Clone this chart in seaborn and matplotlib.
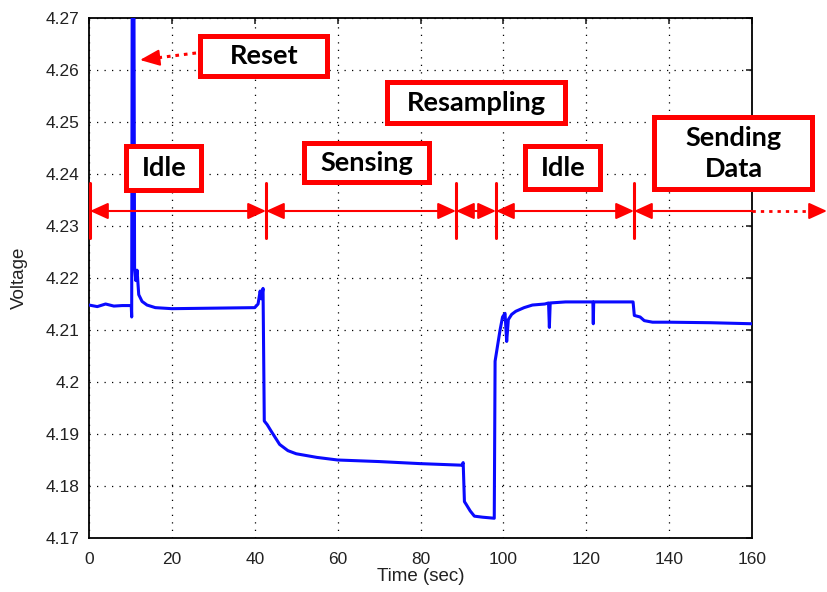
import matplotlib
matplotlib.use("Agg")
import matplotlib.pyplot as plt
import matplotlib.transforms as mtransforms
from matplotlib.patches import Rectangle, FancyArrowPatch
from matplotlib.lines import Line2D
import numpy as np
import pandas as pd
import seaborn as sns

# ---------------- data ----------------
time_sec = [0, 2, 4, 6, 8, 10.2, 10.3, 10.45, 10.6, 10.8, 11.0, 11.3, 11.6, 12.0,
            12.8, 14, 16, 20, 30, 40, 40.8, 41.3, 41.6, 42.0, 42.3, 43, 44, 46,
            48, 50, 55, 60, 70, 80, 90, 90.3, 90.6, 91, 92, 93, 95, 97.8, 98.0,
            98.6, 99.2, 99.8, 100.4, 100.8, 101.2, 102, 103, 105, 107, 110,
            110.9, 111.1, 111.3, 115, 121.6, 121.7, 121.8, 131.3, 131.6, 133,
            134, 136, 140, 150, 160]
voltage = [4.2148, 4.2145, 4.2150, 4.2146, 4.2147, 4.2147, 4.2125, 4.2900,
           4.2500, 4.2900, 4.2220, 4.2195, 4.2215, 4.2168, 4.2155, 4.2148,
           4.2143, 4.2141, 4.2142, 4.2143, 4.2150, 4.2175, 4.2160, 4.2180,
           4.1925, 4.1918, 4.1905, 4.1880, 4.1868, 4.1862, 4.1855, 4.1850,
           4.1847, 4.1843, 4.1840, 4.1845, 4.1770, 4.1765, 4.1752, 4.1742,
           4.1740, 4.1738, 4.2040, 4.2070, 4.2100, 4.2125, 4.2132, 4.2078,
           4.2120, 4.2130, 4.2136, 4.2143, 4.2148, 4.2150, 4.2152, 4.2105,
           4.2152, 4.2154, 4.2154, 4.2112, 4.2154, 4.2154, 4.2128, 4.2125,
           4.2118, 4.2115, 4.2115, 4.2114, 4.2112]

x_ticks = [0, 20, 40, 60, 80, 100, 120, 140, 160]
x_tick_labels = ["0", "20", "40", "60", "80", "100", "120", "140", "160"]
y_ticks = [4.17, 4.18, 4.19, 4.20, 4.21, 4.22, 4.23, 4.24, 4.25, 4.26, 4.27]
y_tick_labels = ["4.17", "4.18", "4.19", "4.2", "4.21", "4.22", "4.23",
                 "4.24", "4.25", "4.26", "4.27"]
x_label = "Time (sec)"
y_label = "Voltage"

phase_labels = ["Reset", "Idle", "Sensing", "Resampling", "Idle", "Sending\nData"]

# ---------------- figure ----------------
sns.set_theme(style="white")
plt.rcParams["font.family"] = ["Liberation Sans", "DejaVu Sans"]

W, H = 828, 592
fig = plt.figure(figsize=(W / 100, H / 100), dpi=100)
fig.patch.set_facecolor("white")
L, R, T, B = 89, 752, 18, 538
ax = fig.add_axes([L / W, 1 - B / H, (R - L) / W, (B - T) / H])
ax.set_facecolor("white")

df = pd.DataFrame({"Time (sec)": time_sec, "Voltage": voltage})
sns.lineplot(data=df, x="Time (sec)", y="Voltage", ax=ax, color="#0a0aff",
             linewidth=2.2, estimator=None, sort=False, zorder=3)

ax.set_xlim(0, 160)
ax.set_ylim(4.17, 4.27)
ax.set_xticks(x_ticks)
ax.set_xticklabels(x_tick_labels)
ax.set_yticks(y_ticks)
ax.set_yticklabels(y_tick_labels)
ax.grid(True, color="black", linestyle=(0, (1, 5)), linewidth=0.9)
for s in ax.spines.values():
    s.set_visible(True)
    s.set_color("black")
    s.set_linewidth(1.3)
ax.tick_params(direction="in", length=4, width=1.2, top=True, right=True,
               labelsize=12.5, labelcolor="#222222", pad=7)
ax.tick_params(axis="x", pad=10)
ax.set_xlabel(x_label, fontsize=13.5, color="#222222")
ax.set_ylabel(y_label, fontsize=13.5, color="#222222")
ax.xaxis.set_label_coords(0.5, (B - 568) / (B - T))
ax.yaxis.set_label_coords((28 - L) / (R - L), 0.5)

# pixel transform (origin top-left of figure)
px = mtransforms.Affine2D().scale(1 / W, -1 / H).translate(0, 1) + fig.transFigure

RED = "#ff0000"
box_font = dict(family=["Lato", "DejaVu Sans"], fontweight="bold", fontsize=19.5,
                color="black")

boxes = [(198, 33, 330, 78), (124, 143, 204, 192), (302, 140, 432, 184),
         (385, 79, 568, 125), (523, 143, 603, 191), (652, 114, 815, 191)]
for lab, (x0, y0, x1, y1) in zip(phase_labels, boxes):
    rect = Rectangle((x0 + 2.5, y1 - 2.5), (x1 - x0) - 5, -((y1 - y0) - 5),
                     transform=px, facecolor="white", edgecolor=RED,
                     linewidth=3.6, zorder=6, clip_on=False)
    fig.add_artist(rect)
    fig.text((x0 + x1) / 2 / W, 1 - ((y0 + y1) / 2 + 1) / H, lab,
             ha="center", va="center", linespacing=1.35, zorder=7, **box_font)

# phase boundary bars and arrows
arrow_y = 211
bars = [90, 266, 456, 496, 634]
for bx in bars:
    fig.add_artist(Line2D([bx, bx], [183, 238], transform=px, color=RED,
                          linewidth=2.2, zorder=5))
for a, b in zip(bars[:-1], bars[1:]):
    fig.add_artist(FancyArrowPatch((a, arrow_y), (b, arrow_y), transform=px,
                                   arrowstyle="<|-|>,head_length=1.1,head_width=0.5",
                                   mutation_scale=10, color=RED, linewidth=1.5,
                                   shrinkA=0, shrinkB=0, zorder=5))
fig.add_artist(FancyArrowPatch((634, arrow_y), (752, arrow_y), transform=px,
                               arrowstyle="<|-,head_length=1.1,head_width=0.5",
                               mutation_scale=10, color=RED, linewidth=1.5,
                               shrinkA=0, shrinkB=0, zorder=5))
fig.add_artist(Line2D([752, 814], [arrow_y, arrow_y], transform=px, color=RED,
                      linewidth=2.0, linestyle=(0, (1.2, 1.8)), zorder=5))
fig.add_artist(FancyArrowPatch((812, arrow_y), (827, arrow_y), transform=px,
                               arrowstyle="-|>,head_length=1.1,head_width=0.5",
                               mutation_scale=10, color=RED, linewidth=1.5,
                               shrinkA=0, shrinkB=0, zorder=5))

# Reset arrow (dotted)
fig.add_artist(Line2D([196, 156], [53, 58], transform=px, color=RED,
                      linewidth=2.2, linestyle=(0, (1.2, 1.6)), zorder=5))
fig.add_artist(FancyArrowPatch((157, 58), (140, 60), transform=px,
                               arrowstyle="-|>,head_length=1.2,head_width=0.5",
                               mutation_scale=10, color=RED, linewidth=1.5,
                               shrinkA=0, shrinkB=0, zorder=5))

fig.savefig("out.png", dpi=100, facecolor="white")
